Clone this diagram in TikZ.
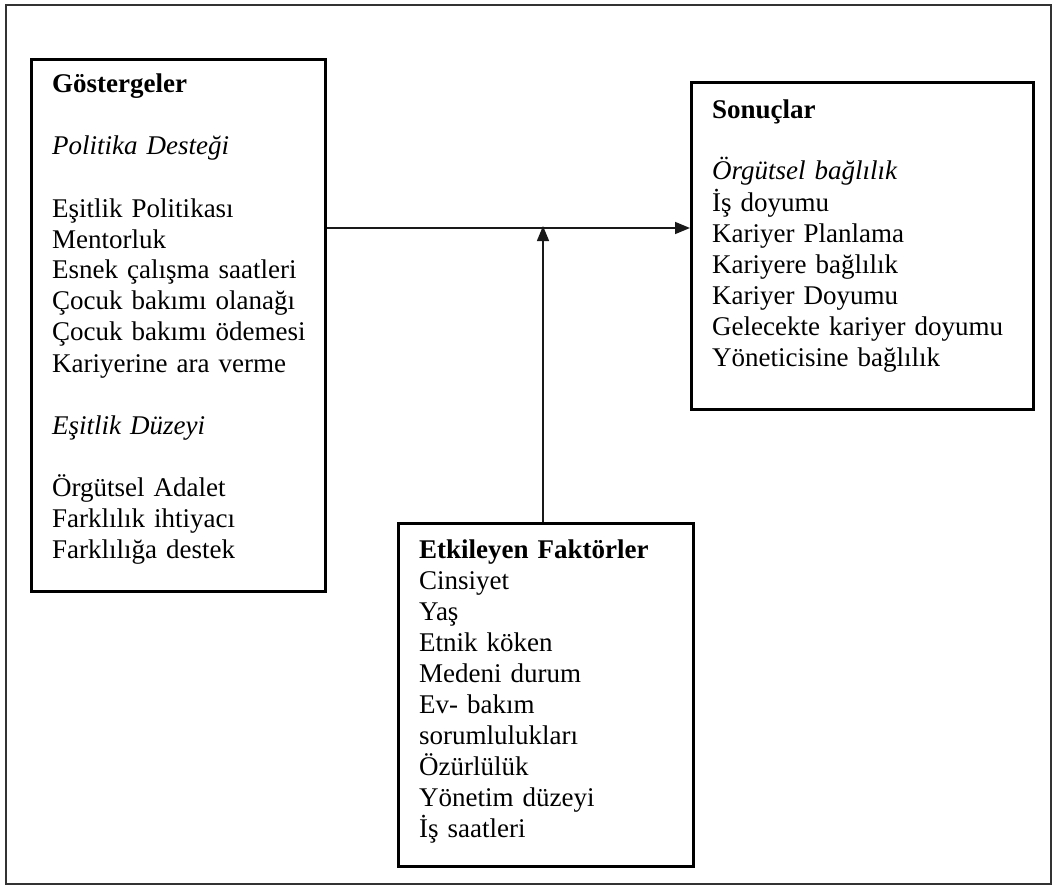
\documentclass[tikz,border=0pt]{standalone}
\usepackage{fontspec}
\setmainfont{Liberation Serif}
\usetikzlibrary{arrows.meta}
\begin{document}
\begin{tikzpicture}[x=1pt,y=-1pt,
  frame/.style={draw=black!80, line width=2pt},
  panel/.style={draw=black, line width=2.6pt, inner sep=0pt, anchor=north west},
  body/.style={anchor=base west, inner sep=0pt, align=left, text width=300pt,
    font=\fontsize{27}{31}\selectfont},
  link/.style={draw=black!90, line width=1.5pt, -{Triangle[length=15pt,width=12pt]}}]
  \useasboundingbox (0,0) rectangle (1054,888);

  % outer frame
  \draw[frame] (6,5) rectangle (1051,884);

  % the three panels
  \node[panel, minimum width=294pt, minimum height=532pt] (ind) at (30,58) {};
  \node[panel, minimum width=342pt, minimum height=327pt] (res) at (690,81) {};
  \node[panel, minimum width=295pt, minimum height=343pt] (fac) at (397,522) {};

  % panel texts
  \node[body] (indtxt) at (52,93) {\textbf{Göstergeler}\\[31pt]
    \textit{Politika Desteği}\\[31pt]
    Eşitlik Politikası\\
    Mentorluk\\
    Esnek çalışma saatleri\\
    Çocuk bakımı olanağı\\
    Çocuk bakımı ödemesi\\
    Kariyerine ara verme\\[31pt]
    \textit{Eşitlik Düzeyi}\\[31pt]
    Örgütsel Adalet\\
    Farklılık ihtiyacı\\
    Farklılığa destek};

  \node[body] (restxt) at (712,118) {\textbf{Sonuçlar}\\[31pt]
    \textit{Örgütsel bağlılık}\\
    İş doyumu\\
    Kariyer Planlama\\
    Kariyere bağlılık\\
    Kariyer Doyumu\\
    Gelecekte kariyer doyumu\\
    Yöneticisine bağlılık};

  \node[body] (factxt) at (419,558) {\textbf{Etkileyen Faktörler}\\
    Cinsiyet\\
    Yaş\\
    Etnik köken\\
    Medeni durum\\
    Ev- bakım\\
    sorumlulukları\\
    Özürlülük\\
    Yönetim düzeyi\\
    İş saatleri};

  % connectors
  \coordinate (meet) at (543,228);
  \draw[link] (ind.east |- meet) -- (res.west |- meet);
  \draw[link] (meet |- fac.north) -- ([yshift=2pt]meet);
\end{tikzpicture}
\end{document}
